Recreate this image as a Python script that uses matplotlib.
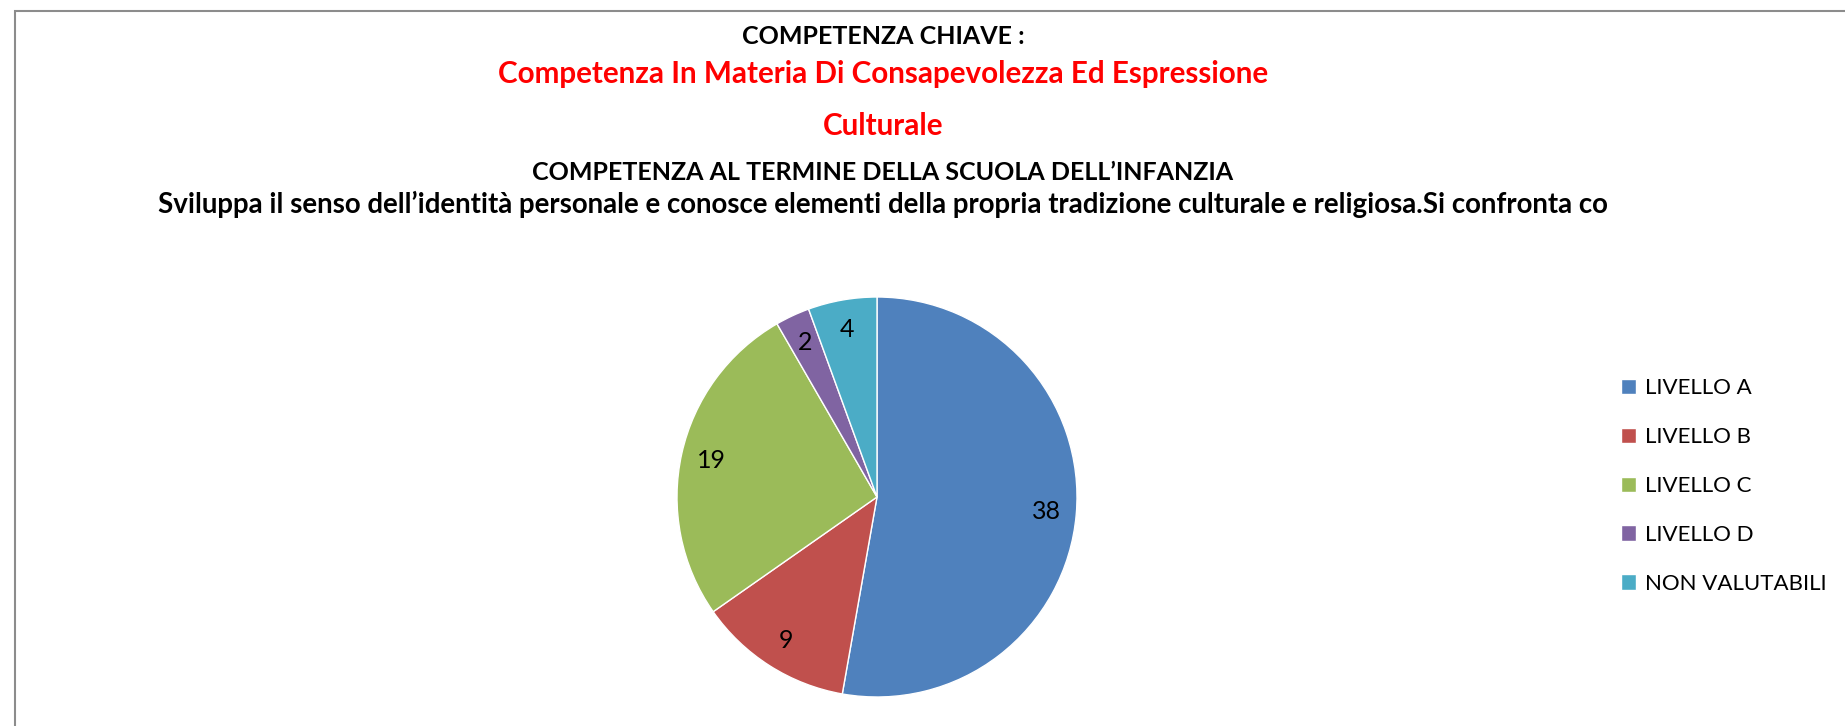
import matplotlib
matplotlib.use("Agg")
import matplotlib.pyplot as plt
from matplotlib.patches import Rectangle

plt.rcParams["font.family"] = ["Lato", "DejaVu Sans"]

# chart data
levels = ["LIVELLO A", "LIVELLO B", "LIVELLO C", "LIVELLO D", "NON VALUTABILI"]
counts = [38, 9, 19, 2, 4]
colors = ["#4F81BD", "#C0504D", "#9BBB59", "#8064A2", "#4BACC6"]

title_lines = [
    ("COMPETENZA CHIAVE :", "black", 18),
    ("Competenza In Materia Di Consapevolezza Ed Espressione", "#FF0000", 21.3),
    ("Culturale", "#FF0000", 21.3),
    ("COMPETENZA AL TERMINE DELLA SCUOLA DELL\u2019INFANZIA", "black", 18),
    ("Sviluppa il senso dell\u2019identit\u00e0 personale e conosce elementi della propria "
     "tradizione culturale e religiosa.Si confronta co", "black", 19.9),
]
title_y_px = [36, 74, 126, 172, 204]

W, H = 1845, 726
fig = plt.figure(figsize=(W / 100, H / 100), dpi=100)

# chart frame (only top/left edges visible in the crop)
fig.add_artist(Rectangle((15 / W, -0.1), 1.2, 1.1 - 11 / H, transform=fig.transFigure,
                         fill=False, edgecolor="#8c8c8c", linewidth=1.5))

for (txt, col, fs), ypx in zip(title_lines, title_y_px):
    fig.text(883 / W, 1 - ypx / H, txt, ha="center", va="center",
             color=col, fontsize=fs, fontweight="bold")

# pie centred at (877, 497) px with radius 200 px
cx, cy, r = 877, 497, 200
ax = fig.add_axes([(cx - r) / W, (H - cy - r) / H, 2 * r / W, 2 * r / H])
total = sum(counts)
wedges, _, autotexts = ax.pie(
    counts, colors=colors, startangle=90, counterclock=False,
    autopct=lambda p: f"{round(p * total / 100)}", pctdistance=0.85,
    wedgeprops=dict(edgecolor="white", linewidth=1),
    textprops=dict(fontsize=18, color="black"),
)
ax.set_xlim(-1, 1)
ax.set_ylim(-1, 1)
ax.set_aspect("equal")

fig.legend(wedges, levels, loc="center left", bbox_to_anchor=(1610 / W, 1 - 486 / H),
           frameon=False, fontsize=16, handlelength=0.68, handleheight=0.68,
           handletextpad=0.4, labelspacing=1.3, borderpad=0)

fig.savefig("out.png", dpi=100)
